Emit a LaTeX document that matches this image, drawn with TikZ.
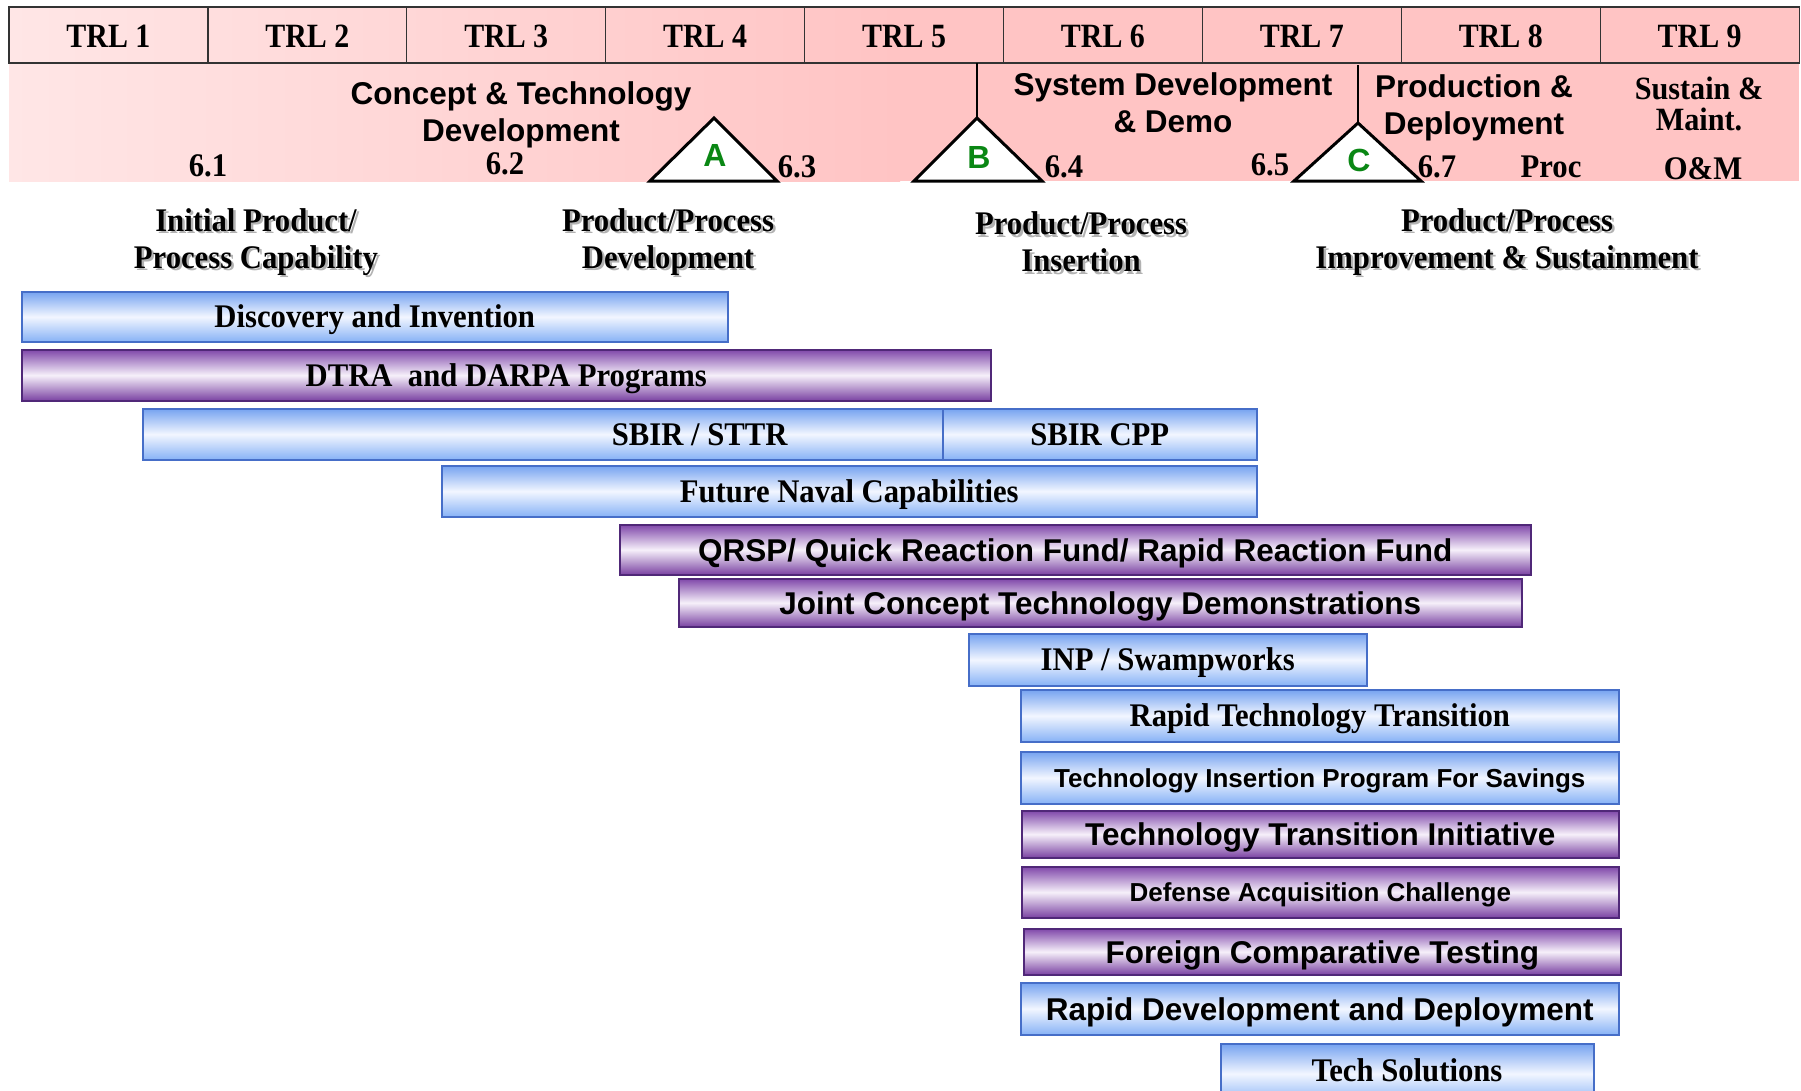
\documentclass[tikz,border=0pt]{standalone}
\usepackage{fontspec}
\setmainfont{Liberation Serif}
\setsansfont{Liberation Sans}
\newfontfamily\serifc[FakeStretch=0.93]{Liberation Serif}
\newfontfamily\trlfont[FakeStretch=0.88]{Liberation Serif}
\definecolor{pinkL}{RGB}{255,230,230}
\definecolor{pinkR}{RGB}{255,196,196}
\definecolor{blueT}{RGB}{118,163,240}
\definecolor{blueM}{RGB}{242,246,255}
\definecolor{blueB}{RGB}{135,178,246}
\definecolor{blueD}{RGB}{70,110,200}
\definecolor{purT}{RGB}{128,72,170}
\definecolor{purM}{RGB}{246,240,250}
\definecolor{purB}{RGB}{122,66,162}
\definecolor{purD}{RGB}{80,40,120}
\definecolor{tgreen}{RGB}{10,135,20}
\tikzset{
  serif/.style={font=\serifc\fontsize{33}{37}\selectfont\bfseries, align=center, inner sep=0pt},
  sans/.style={font=\sffamily\fontsize{31.5}{37}\selectfont\bfseries, align=center, inner sep=0pt},
  sanssmall/.style={font=\sffamily\fontsize{26}{30}\selectfont\bfseries, align=center, inner sep=0pt},
  sertxt/.style={serif, anchor=base, yshift=-11pt},
  sanstxt/.style={sans, anchor=base, yshift=-11.5pt},
  smalltxt/.style={sanssmall, anchor=base, yshift=-9.3pt},
  trlcell/.style={draw=black!80, line width=1.2pt, minimum width=198.9, minimum height=56, inner sep=0pt},
  trltxt/.style={font=\trlfont\fontsize{34}{36}\selectfont\bfseries, anchor=base, inner sep=0pt},
  bar/.style={anchor=north west, inner sep=0pt, line width=1.5pt},
  bluebar/.style={bar, draw=blueD, top color=blueT, bottom color=blueB, middle color=blueM},
  purbar/.style={bar, draw=purD, top color=purT, bottom color=purB, middle color=purM},
  tri/.style={draw=black, line width=3pt, fill=white, line join=miter},
  sepline/.style={draw=black, line width=1.2pt},
  letter/.style={font=\sffamily\fontsize{32}{34}\selectfont\bfseries, text=tgreen, inner sep=0pt},
  shadow/.style={text=black!30},
}
\begin{document}
\begin{tikzpicture}[x=1pt,y=-1pt]
\clip (0,0) rectangle (1801,1090);
\fill[white] (0,0) rectangle (1801,1090);
% background band and header
\shade[left color=pinkL, right color=pinkR] (9,7) rectangle (900,181);
\fill[pinkR] (899,7) rectangle (1799,181);
% TRL cells
\foreach \i in {1,...,9}{
  \node[trlcell] (trl\i) at ({9+(\i-0.5)*198.9},35) {};
  \node[trltxt] (trl\i t) at ({9+(\i-0.5)*198.9},47) {TRL \i};
}
% separators
\coordinate (sepB) at (977,63);
\coordinate (sepC) at (1358,65);
\coordinate (Aapex) at (714,118);
\coordinate (Bapex) at (977,118);
\coordinate (Capex) at (1358,123);
\draw[sepline] (sepB) -- (Bapex);
\draw[sepline] (sepC) -- (Capex);
% triangles
\draw[tri] (650,181) -- (Aapex) -- (777,181) -- cycle;
\draw[tri] (914,181) -- (Bapex) -- (1042,181) -- cycle;
\draw[tri] (1294,181) -- (Capex) -- (1421,181) -- cycle;
\node[letter] (la) at (715,155) {A};
\node[letter] (lb) at (979,157) {B};
\node[letter] (lc) at (1359,160) {C};
% band texts
\node[sans] (ctd) at (521,115) {Concept \& Technology\\Development};
\node[sans] (sdd) at (1173,103) {System Development\\\& Demo};
\node[sans] (pd) at (1474,108) {Production \&\\Deployment};
\node[serif, font=\serifc\fontsize{32.5}{31}\selectfont\bfseries] (sm) at (1699,104) {Sustain \&\\Maint.};
\node[serif] (n61) at (208,166) {6.1};
\node[serif] (n62) at (505,164) {6.2};
\node[serif] (n63) at (797,167) {6.3};
\node[serif] (n64) at (1064,167) {6.4};
\node[serif] (n65) at (1270,165) {6.5};
\node[serif] (n67) at (1437,167) {6.7};
\node[serif] (proc) at (1551,167) {Proc};
\node[serif] (om) at (1703,169) {O\&M};
% headings with shadow
\foreach \nm/\x/\t in {h1/256/{Initial Product/\\Process Capability}, h2/668/{Product/Process\\Development}, h3/1081/{Product/Process\\Insertion}, h4/1507/{Product/Process\\Improvement \& Sustainment}}{
  \node[serif, shadow] (\nm s) at (\x+2.5,244.5) {\t};
  \node[serif] (\nm) at (\x,242) {\t};
}
% bars
\node[bluebar, minimum width=706, minimum height=50] (disc) at (21,291) {};
\node[sertxt] (disct) at (disc.center) {Discovery and Invention};
\node[purbar, minimum width=969, minimum height=51] (dtra) at (21,349) {};
\node[sertxt] (dtrat) at (dtra.center) {DTRA\ \ and DARPA Programs};
\node[bluebar, minimum width=1114, minimum height=51] (sbir) at (142,408) {};
\node[sertxt] (sbirt) at (sbir.center) {SBIR / STTR};
\node[bluebar, minimum width=314, minimum height=51] (cpp) at (942,408) {};
\node[sertxt] (cppt) at (cpp.center) {SBIR CPP};
\node[bluebar, minimum width=815, minimum height=51] (fnc) at (441,465) {};
\node[sertxt] (fnct) at (fnc.center) {Future Naval Capabilities};
\node[purbar, minimum width=911, minimum height=50] (qrsp) at (619,524) {};
\node[sanstxt] (qrspt) at (qrsp.center) {QRSP/ Quick Reaction Fund/ Rapid Reaction Fund};
\node[purbar, minimum width=843, minimum height=48] (jctd) at (678,578) {};
\node[sanstxt] (jctdt) at (jctd.center) {Joint Concept Technology Demonstrations};
\node[bluebar, minimum width=398, minimum height=52] (inp) at (968,633) {};
\node[sertxt] (inpt) at (inp.center) {INP / Swampworks};
\node[bluebar, minimum width=598, minimum height=52] (rtt) at (1020,689) {};
\node[sertxt] (rttt) at (rtt.center) {Rapid Technology Transition};
\node[bluebar, minimum width=598, minimum height=52] (tips) at (1020,751) {};
\node[smalltxt] (tipst) at (tips.center) {Technology Insertion Program For Savings};
\node[purbar, minimum width=597, minimum height=47] (tti) at (1021,810) {};
\node[sanstxt] (ttit) at (tti.center) {Technology Transition Initiative};
\node[purbar, minimum width=597, minimum height=51] (dac) at (1021,866) {};
\node[smalltxt] (dact) at (dac.center) {Defense Acquisition Challenge};
\node[purbar, minimum width=597, minimum height=46] (fct) at (1023,928) {};
\node[sanstxt] (fctt) at (fct.center) {Foreign Comparative Testing};
\node[bluebar, minimum width=598, minimum height=52] (rdd) at (1020,982) {};
\node[sanstxt] (rddt) at (rdd.center) {Rapid Development and Deployment};
\node[bluebar, minimum width=373, minimum height=60] (tech) at (1220,1043) {};
\node[sertxt] (techt) at (1407,1070) {Tech Solutions};
\end{tikzpicture}
\end{document}
